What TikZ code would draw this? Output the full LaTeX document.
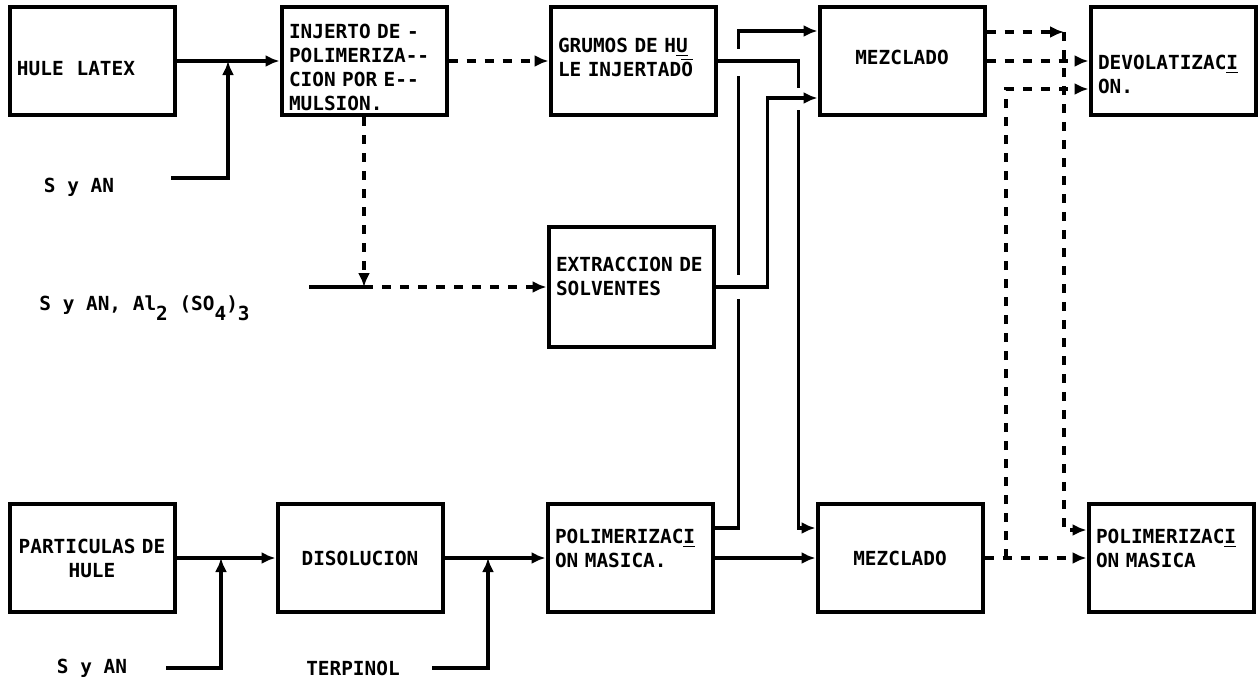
\documentclass[tikz,border=0pt]{standalone}
\usepackage{fontspec}
\newfontfamily\lett{DejaVu Sans Mono}
\usetikzlibrary{arrows.meta}
\newcommand{\boxfont}{\lett\bfseries\fontsize{9.7}{12}\selectfont}
\newcommand{\lowr}[1]{\raisebox{-0.9ex}{#1}}
\newcommand{\dn}[1]{\rule{0pt}{#1}}
\newcommand{\up}[1]{\rule[-#1]{0pt}{0pt}}

\begin{document}
\begin{tikzpicture}[x=0.5pt,y=-0.5pt,
  box/.style={draw,line width=2pt,text width=75pt,inner sep=3.75pt,minimum height=54pt,align=left,font=\boxfont},
  cbox/.style={box,align=center},
  lbl/.style={inner sep=0pt,font=\boxfont},
  wire/.style={line width=1.7pt},
  flow/.style={wire,-{Latex[length=7pt,width=6pt]}},
  dwire/.style={wire,dash pattern=on 4.5pt off 4.5pt},
  dflow/.style={dwire,-{Latex[length=7pt,width=6pt]}}]
  \useasboundingbox (0,0) rectangle (1260,686);

  \node[box] (hule) at (92,61) {\dn{15pt}HULE~~LATEX};
  \node[box,inner ysep=0.5pt] (injerto) at (364,61) {\dn{14pt}INJERTO~DE~-\\POLIMERIZA--\\CION~POR~E--\\MULSION.};
  \node[box] (grumos) at (633,61) {GRUMOS~DE~H\underline{U}\\LE~INJERTAD$\overline{\hbox{O}}$\up{4pt}};
  \node[cbox] (mezcla) at (902,61) {MEZCLADO\up{4pt}};
  \node[box] (devol) at (1173,61) {\dn{21pt}DEVOLATIZAC\underline{I}\\ON.};
  \node[box,minimum height=60pt] (extrac) at (631,287) {EXTRACCION~DE\\SOLVENTES\up{11pt}};
  \node[cbox] (partic) at (92,558) {PARTICULAS~DE\\HULE};
  \node[cbox] (disol) at (360,558) {DISOLUCION};
  \node[box] (polim) at (630,558) {POLIMERIZAC\underline{I}\\ON~MASICA.\up{10pt}};
  \node[cbox] (mezclb) at (900,558) {MEZCLADO};
  \node[box] (polimb) at (1171,558) {POLIMERIZAC\underline{I}\\ON~MASICA\up{10pt}};

  \node[lbl] (sya) at (79,187) {S~y~AN};
  \node[lbl,anchor=west] (syal) at (39,308) {S~y~AN,~Al\lowr{2}~(SO\lowr{4})\lowr{3}};
  \node[lbl] (syb) at (92,668) {S~y~AN};
  \node[lbl] (terp) at (353,668) {TERPINOL};

  \coordinate (ina) at (171,178);
  \coordinate (ja) at (228,61);
  \coordinate (inb) at (309,287);
  \coordinate (jb) at (364,287);
  \coordinate (inc) at (166,668);
  \coordinate (jc) at (221,558);
  \coordinate (ind) at (432,668);
  \coordinate (jd) at (488,558);
  \coordinate (ka) at (1064,32);
  \coordinate (kb) at (1006,558);

  % emulsion line
  \draw[flow] (hule) -- (injerto);
  \draw[flow] (ina) -| (ja);
  \draw[dflow] (injerto) -- (grumos);
  \draw[dflow] (injerto) -- (jb);
  \draw[wire] (inb) -- (jb);
  \draw[dflow] (jb) -- (extrac);

  % mass line
  \draw[flow] (partic) -- (disol);
  \draw[flow] (inc) -| (jc);
  \draw[flow] (disol) -- (polim);
  \draw[flow] (ind) -| (jd);
  \draw[flow] (polim) -- (mezclb);

  % crossing feeds to the mixers
  \draw[flow] ([yshift=15pt]polim.east) -- ++(24,0) |- ([yshift=15pt]mezcla.west);
  \fill[white] (729,49) rectangle (744,76);
  \fill[white] (729,275) rectangle (744,299);
  \draw[flow] (grumos.east) -- ++(81,0) |- ([yshift=15pt]mezclb.west);
  \fill[white] (789,88) rectangle (804,110);
  \draw[flow] (extrac.east) -- ++(52,0) |- ([yshift=-18.5pt]mezcla.west);

  % finishing
  \draw[dflow] ([yshift=14.5pt]mezcla.east) -- (ka);
  \draw[dflow] (ka) |- ([yshift=14pt]polimb.west);
  \draw[dflow] (mezcla) -- (devol);
  \draw[dflow] (mezclb) -- (polimb);
  \draw[dflow] (kb) |- ([yshift=-14pt]devol.west);
\end{tikzpicture}
\end{document}
